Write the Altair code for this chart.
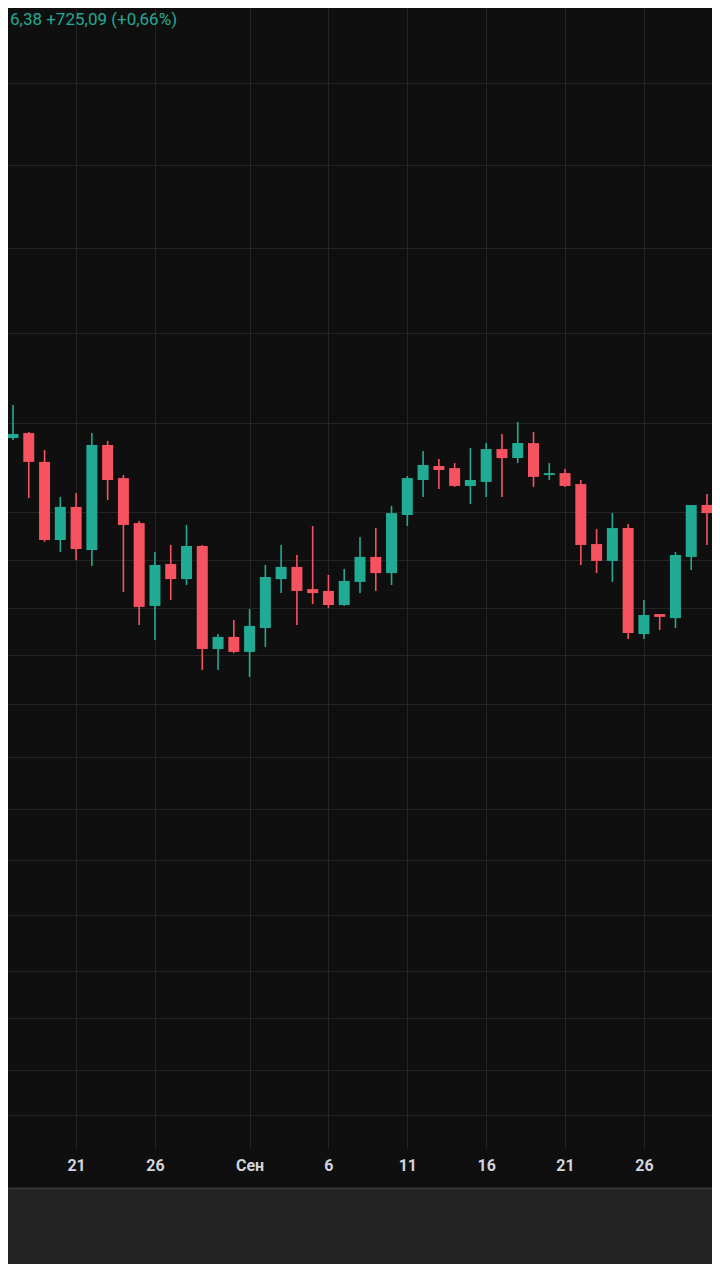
import altair as alt
import pandas as pd
import numpy as np

# ---- data (BTC daily candles, Aug 17 - Sep 30) ----
dates = pd.date_range("2025-08-17", "2025-09-30", freq="D").strftime("%Y-%m-%d").tolist()

opens = [117240, 117450, 116240, 112960, 114350, 112540, 116950, 115560, 113670, 110190,
         111950, 111320, 112710, 108380, 108890, 108260, 109260, 111320, 111830, 110900,
         110820, 110230, 111200, 112250, 111570, 114010, 115480, 116070, 115980, 115230,
         115400, 116780, 116400, 117030, 115690, 115770, 115310, 112790, 112080, 113460,
         109010, 109850, 109680, 112250, 114430]
highs = [118630, 117500, 116740, 114770, 114930, 117450, 117120, 115690, 113760, 112460,
         112750, 113590, 112750, 109010, 109600, 110060, 111910, 112750, 112330, 113550,
         111490, 111740, 113090, 113460, 114390, 115650, 116700, 116360, 116190, 116820,
         117030, 117410, 117920, 117500, 116190, 115940, 115480, 113420, 114090, 113630,
         110440, 109850, 112460, 114430, 114890]
lows = [117160, 114720, 112880, 112460, 112120, 111870, 114640, 110780, 109390, 108760,
        110440, 111070, 107500, 107500, 108210, 107210, 108470, 110730, 109390, 110270,
        110100, 110190, 110730, 110820, 111070, 113550, 114770, 115100, 115190, 114470,
        114770, 114770, 116190, 115190, 115480, 115190, 111910, 111570, 111200, 108800,
        108800, 109180, 109260, 111700, 112750]
closes = [117410, 116240, 112960, 114350, 112580, 116950, 115480, 113590, 110150, 111910,
          111320, 112710, 108380, 108890, 108260, 109350, 111410, 111830, 110820, 110730,
          110230, 111240, 112250, 111570, 114090, 115560, 116110, 115900, 115230, 115480,
          116780, 116400, 117030, 115610, 115770, 115230, 112750, 112080, 113460, 109050,
          109810, 109730, 112330, 114430, 114090]

# horizontal grid levels (price) and the date ticks on the time axis
grid_levels = [132150, 128710, 125220, 121650, 117870, 114140, 112120, 110100, 108130,
               106070, 103850, 101660, 99520, 97210, 94860, 92880, 90700, 88810]
tick_dates = ["2025-08-21", "2025-08-26", "2025-09-01", "2025-09-06", "2025-09-11",
              "2025-09-16", "2025-09-21", "2025-09-26"]
tick_labels = ["21", "26", "Сен", "6", "11", "16", "21", "26"]
header_text = "6,38 +725,09 (+0,66%)"

price_domain = [87424, 135304]
date_domain = ["2025-08-17", "2025-09-30"]

# ---- styling ----
BG = "#0f0f0f"
GRID = "#242424"
GREEN = "#22ab94"
RED = "#f7525f"
LABEL = "#d1d4dc"
BAND = "#232323"


def ms(d):
    return int(pd.Timestamp(d, tz="UTC").timestamp() * 1000)


df = pd.DataFrame({"date": dates, "open": opens, "high": highs, "low": lows, "close": closes})
df["dir"] = np.where(df["close"] >= df["open"], "up", "down")

label_expr = "".join(
    f"utcFormat(datum.value, '%Y-%m-%d') == '{d}' ? '{l}' : " for d, l in zip(tick_dates, tick_labels)
) + "''"

x_enc = alt.X(
    "date:T",
    scale=alt.Scale(type="utc", domain=[ms(d) for d in date_domain]),
    axis=alt.Axis(
        values=[ms(d) for d in tick_dates],
        labelExpr=label_expr,
        grid=True, gridColor=GRID, gridWidth=1,
        ticks=False, domain=False,
        labelColor=LABEL, labelFont="Roboto", labelFontSize=16, labelFontWeight="bold",
        labelBaseline="middle", labelPadding=17,
        labelFlush=False, labelOverlap=False, labelBound=False,
        minExtent=40, maxExtent=40, title=None,
    ),
)
y_scale = alt.Scale(domain=price_domain, nice=False, zero=False)
y_axis = alt.Axis(values=grid_levels, labels=False, ticks=False, domain=False,
                  grid=True, gridColor=GRID, gridWidth=1, minExtent=0, maxExtent=0, title=None)
color = alt.Color("dir:N", scale=alt.Scale(domain=["up", "down"], range=[GREEN, RED]), legend=None)

base = alt.Chart(df)
wicks = base.mark_rule(clip=True, strokeWidth=1.6).encode(
    x=x_enc,
    y=alt.Y("low:Q", scale=y_scale, axis=y_axis),
    y2="high:Q",
    color=color,
)
bodies = base.mark_bar(clip=True, size=11).encode(
    x="date:T",
    y=alt.Y("open:Q"),
    y2="close:Q",
    color=color,
)
header = alt.Chart(pd.DataFrame({"t": [header_text]})).mark_text(
    align="left", baseline="middle", color=GREEN, fontSize=17, font="Roboto"
).encode(x=alt.value(2), y=alt.value(12), text="t:N")

top = alt.layer(wicks, bodies, header).properties(
    width=704, height=1140, view=alt.ViewBackground(fill=BG, stroke=BG, strokeWidth=0)
)

band = alt.Chart(pd.DataFrame({"v": [0]})).mark_point(opacity=0).encode(
    x=alt.X("v:Q", axis=alt.Axis(orient="top", labels=False, ticks=False, grid=False, domain=True,
                                  domainColor="#363636", domainWidth=2, title=None,
                                  minExtent=0, maxExtent=0)),
    y=alt.Y("v:Q", axis=None),
).properties(width=704, height=76, view=alt.ViewBackground(fill=BAND, stroke=BAND, strokeWidth=0))

chart = alt.vconcat(top, band, spacing=0).configure(background=BG, padding=0).configure_view(strokeWidth=0)

chart.save("out.html", embed_options={"renderer": "svg", "actions": False})
